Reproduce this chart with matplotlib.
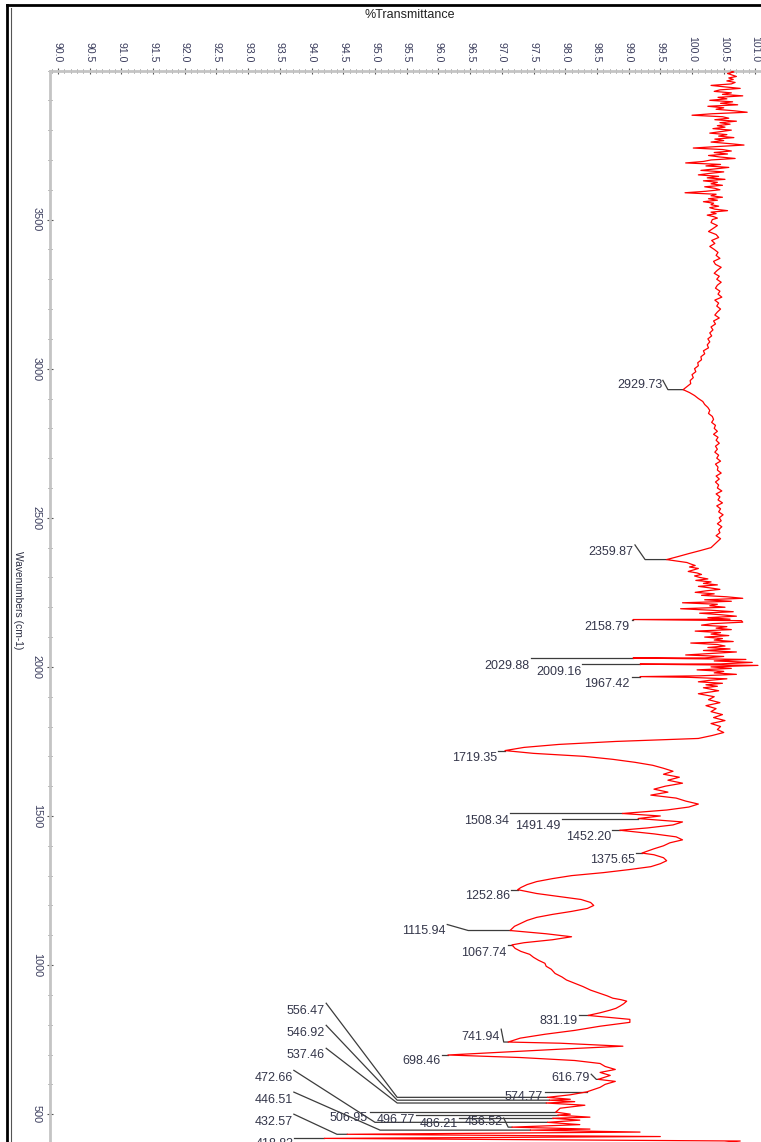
import numpy as np
import matplotlib
matplotlib.use("Agg")
import matplotlib.pyplot as plt
from matplotlib.lines import Line2D
from matplotlib.ticker import MultipleLocator, FormatStrFormatter

plt.rcParams['font.family'] = ['Liberation Sans', 'DejaVu Sans']

# noisy high-wavenumber part, 4000 -> 3500 in steps of 5
wn_a = np.arange(4000, 3499, -5)
t_a = [100.60, 100.66, 100.56, 100.63, 100.70, 100.58, 100.65, 100.55, 100.68, 100.62,
       100.30, 100.52, 100.76, 100.44, 100.35, 100.62, 100.48, 100.80, 100.41, 100.55,
       100.28, 100.64, 100.45, 100.72, 100.25, 100.50, 100.38, 100.66, 100.87, 100.32,
       100.00, 100.48, 100.58, 100.36, 100.70, 100.44, 100.60, 100.40, 100.52, 100.33,
       100.62, 100.45, 100.28, 100.55, 100.42, 100.66, 100.36, 100.50, 100.30, 100.58,
       100.82, 100.40, 100.02, 100.48, 100.62, 100.35, 100.56, 100.26, 100.44, 100.68,
       100.30, 100.18, 99.90, 100.45, 100.22, 100.58, 100.36, 100.14, 100.50, 100.28,
       100.10, 100.42, 100.24, 100.52, 100.18, 100.40, 100.30, 100.48, 100.20, 100.36,
       100.44, 100.22, 99.89, 100.38, 100.30, 100.48, 100.26, 100.40, 100.18, 100.34,
       100.30, 100.42, 100.28, 100.36, 100.56, 100.30, 100.38, 100.24, 100.34, 100.40,
       100.32]

# 3490 -> 2940
wn_b = np.arange(3490, 2939, -10)
t_b = [100.30, 100.40, 100.33, 100.26, 100.38, 100.42, 100.31, 100.36, 100.28, 100.35,
       100.41, 100.38, 100.44, 100.34, 100.37, 100.46, 100.40, 100.35, 100.43, 100.39,
       100.46, 100.40, 100.37, 100.44, 100.41, 100.47, 100.36, 100.42, 100.39, 100.45,
       100.40, 100.36, 100.43, 100.34, 100.37, 100.30, 100.33, 100.28, 100.31, 100.25,
       100.28, 100.24, 100.26, 100.18, 100.20, 100.14, 100.15, 100.09, 100.10, 100.04,
       100.06, 100.00, 100.02, 99.97, 99.98, 99.92]

# 2920 -> 2370, quiet stretch
wn_c = np.arange(2920, 2369, -10)
t_c = [99.96, 100.04, 100.10, 100.17, 100.20, 100.25, 100.28, 100.26, 100.32, 100.34,
       100.31, 100.37, 100.35, 100.40, 100.34, 100.41, 100.38, 100.43, 100.37, 100.40,
       100.36, 100.42, 100.39, 100.45, 100.37, 100.41, 100.40, 100.46, 100.38, 100.43,
       100.37, 100.42, 100.40, 100.47, 100.38, 100.44, 100.41, 100.48, 100.39, 100.45,
       100.42, 100.49, 100.43, 100.46, 100.40, 100.47, 100.42, 100.44, 100.38, 100.45,
       100.40, 100.35, 100.30, 100.13, 99.95, 99.78]

# 2350 -> 1935, noisy stretch
wn_n = np.arange(2350, 1934, -5)
t_n = [99.92, 99.98, 100.05, 99.96, 100.10, 100.02, 99.94, 100.08, 100.15, 100.04,
       100.12, 100.25, 100.06, 100.30, 100.18, 100.40, 100.10, 100.28, 100.44, 100.22,
       100.05, 100.35, 100.15, 100.55, 100.80, 100.20, 100.62, 99.85, 100.40, 100.28,
       100.52, 99.82, 100.30, 100.65, 100.12, 100.45, 100.70, 100.25, 100.60, 100.78,
       100.80, 100.32, 100.15, 100.55, 100.38, 100.62, 100.05, 100.45, 100.30, 100.58,
       100.20, 100.48, 100.35, 100.65, 99.98, 100.40, 100.52, 100.25, 100.60, 100.18,
       100.70, 100.30, 99.90, 100.50, 100.20, 100.85, 100.35, 100.95, 100.45, 101.04,
       100.30, 100.62, 100.08, 100.50, 100.35, 100.70, 100.12, 99.95, 100.55, 100.28,
       100.10, 100.48, 100.22, 100.40]

# 1930 -> 1760
wn_e = np.arange(1930, 1759, -10)
t_e = [100.18, 100.42, 100.10, 100.35, 100.26, 100.44, 100.22, 100.38, 100.30, 100.48,
       100.34, 100.52, 100.30, 100.45, 100.40, 100.50, 100.32, 100.10]

# 1750 -> 400
wn_d = [1750, 1740, 1730, 1710, 1700, 1690, 1680, 1670, 1660, 1650,
        1640, 1630, 1620, 1610, 1600, 1590, 1580, 1570, 1560, 1550,
        1540, 1530, 1520, 1500, 1480, 1470, 1460, 1440, 1430, 1420,
        1410, 1400, 1390, 1370, 1360, 1350, 1340, 1330, 1320, 1310,
        1300, 1290, 1280, 1270, 1260, 1240, 1230, 1220, 1210, 1200,
        1190, 1180, 1170, 1160, 1150, 1140, 1130, 1105, 1095, 1085,
        1075, 1056, 1046, 1036, 1026, 1016, 1006, 996, 986, 972,
        960, 950, 939, 928, 916, 905, 897, 889, 884, 879,
        870, 862, 855, 849, 840, 818, 808, 795, 781, 768,
        755, 738, 728, 718, 690, 680, 670, 660, 650, 640,
        630, 610, 600, 590, 565, 550, 542, 530, 520, 500,
        490, 480, 465, 450, 440, 425, 410, 400]
t_d = [98.80, 97.90, 97.35, 97.50, 98.30, 98.75, 99.10, 99.38, 99.55, 99.70,
       99.55, 99.80, 99.62, 99.85, 99.58, 99.40, 99.62, 99.35, 99.75, 99.90,
       100.10, 99.95, 99.60, 99.50, 99.85, 99.70, 99.30, 99.40, 99.75, 99.85,
       99.65, 99.55, 99.40, 99.40, 99.55, 99.60, 99.50, 99.35, 99.00, 98.60,
       98.10, 97.80, 97.55, 97.40, 97.30, 97.55, 97.90, 98.25, 98.40, 98.45,
       98.35, 98.10, 97.80, 97.55, 97.40, 97.30, 97.20, 97.70, 98.10, 97.80,
       97.35, 97.21, 97.30, 97.44, 97.50, 97.58, 97.68, 97.70, 97.78, 97.84,
       97.95, 98.02, 98.15, 98.28, 98.40, 98.55, 98.66, 98.75, 98.88, 98.97,
       98.92, 98.86, 98.80, 98.71, 98.55, 99.02, 99.02, 98.55, 98.15, 97.68,
       97.29, 97.92, 98.91, 97.92, 97.29, 98.15, 98.55, 98.63, 98.79, 98.55,
       98.71, 98.79, 98.63, 98.55, 98.08, 98.08, 98.15, 98.31, 97.92, 98.08,
       98.39, 98.23, 98.23, 98.39, 99.18, 99.50, 100.76, 100.30]

# labelled peaks
peak_wn = [2929.73, 2359.87, 2158.79, 2029.88, 2009.16, 1967.42, 1719.35, 1508.34,
           1491.49, 1452.20, 1375.65, 1252.86, 1115.94, 1067.74, 831.19, 741.94,
           698.46, 616.79, 574.77, 556.47, 546.92, 537.46, 506.95, 496.77,
           486.21, 472.66, 456.52, 446.51, 432.57, 418.83]
peak_t = [99.86, 99.60, 99.07, 99.07, 99.18, 99.18, 97.05, 98.90,
          99.15, 98.86, 99.21, 97.25, 97.13, 97.16, 98.36, 97.10,
          96.15, 98.52, 98.34, 97.72, 97.75, 97.70, 97.85, 97.88,
          97.80, 97.72, 97.16, 97.45, 94.56, 94.20]

# label placement: text right edge (T, wn), leader start (T, wn), leader elbow T
label_pos = [
    (99.53, 2944, 99.54, 2961, 99.62),
    (99.07, 2385, 99.10, 2409, 99.26),
    (99.02, 2134, 99.05, None, 99.05),
    (97.44, 2003, 97.46, None, 97.46),
    (98.26, 1983, 98.27, None, 98.27),
    (99.02, 1943, 99.05, None, 99.05),
    (96.92, 1695, 96.94, None, 96.94),
    (97.11, 1484, 97.13, None, 97.13),
    (97.93, 1468, 97.95, None, 97.95),
    (98.72, 1431, 98.74, None, 98.74),
    (99.10, 1351, 99.12, None, 99.12),
    (97.13, 1230, 97.15, None, 97.15),
    (96.12, 1113, 96.14, 1136, 96.47),
    (97.08, 1042, 97.10, None, 97.10),
    (98.19, 811, 98.21, None, 98.21),
    (96.97, 758, 96.99, 785, 97.03),
    (96.03, 678, 96.05, None, 96.05),
    (98.39, 621, 98.41, 634, 98.49),
    (97.65, 557, 97.68, None, 97.68),
    (94.21, 845, 94.23, 872, 95.35),
    (94.21, 771, 94.23, 798, 95.35),
    (94.21, 698, 94.23, 721, 95.35),
    (94.89, 487, 94.92, None, 94.92),
    (95.63, 480, 95.65, None, 95.65),
    (96.31, 467, 96.33, None, 96.33),
    (93.71, 621, 93.72, 647, 95.00),
    (97.02, 473, 97.03, 487, 97.10),
    (93.71, 547, 93.72, 574, 95.08),
    (93.71, 473, 93.72, 500, 94.40),
    (93.71, 399, 93.72, None, 93.72),
]

wn = np.concatenate([wn_a, wn_b, wn_c, wn_n, wn_e, wn_d, peak_wn])
tr = np.concatenate([t_a, t_b, t_c, t_n, t_e, t_d, peak_t])
order = np.argsort(wn)[::-1]
wn = wn[order]
tr = tr[order]

W, H = 761, 1142
fig = plt.figure(figsize=(W / 100, H / 100), dpi=100)
ax = fig.add_axes([50 / W, -2 / H, 711 / W, 1073.5 / H])

ax.plot(tr, wn, color='#ff0000', lw=0.9, zorder=3)

label_col = '#34364a'
for (pw, pt, pos) in zip(peak_wn, peak_t, label_pos):
    tx, ty, sx, sy, ex = pos
    if sy is None:
        sy = pw
    ax.plot([sx, ex, pt], [sy, pw, pw], color='#3c3c3c', lw=0.9, zorder=2,
            clip_on=False)
    ax.text(tx, ty, '%.2f' % pw, ha='right', va='center', fontsize=9.0,
            color=label_col, clip_on=False)

ax.set_xlim(89.874, 101.088)
ax.set_ylim(400, 4000)

ax.xaxis.set_major_locator(MultipleLocator(0.5))
ax.xaxis.set_minor_locator(MultipleLocator(0.1))
ax.xaxis.set_major_formatter(FormatStrFormatter('%.1f'))
ax.yaxis.set_major_locator(MultipleLocator(500))
ax.yaxis.set_minor_locator(MultipleLocator(100))
ax.xaxis.tick_top()
ax.tick_params(axis='x', which='major', direction='inout', length=5, width=0.8,
               color='#555555', pad=3.5, labelsize=7.6, labelcolor='#3a3c5c',
               labelrotation=-90)
ax.tick_params(axis='x', which='minor', direction='inout', length=3, width=0.6,
               color='#666666')
ax.tick_params(axis='y', which='major', direction='inout', length=5, width=0.8,
               color='#555555', pad=3.5, labelsize=7.8, labelcolor='#3a3c5c',
               labelrotation=-90)
ax.tick_params(axis='y', which='minor', direction='inout', length=3, width=0.6,
               color='#666666')
yt = [v for v in ax.get_yticks() if 500 <= v <= 3500]
ax.set_yticks(yt)
for lab in ax.get_yticklabels():
    lab.set_verticalalignment('center')

for side in ['right', 'bottom']:
    ax.spines[side].set_visible(False)
for side in ['left', 'top']:
    ax.spines[side].set_color('#c4c4c4')
    ax.spines[side].set_linewidth(2)

fig.text(410 / W, 1 - 15 / H, '%Transmittance', ha='center', va='center',
         fontsize=9, color='#222222')
fig.text(18 / W, 1 - 600 / H, 'Wavenumbers (cm-1)', ha='center', va='center',
         rotation=-90, fontsize=7.4, color='#2a2c40')

# page frame around the chart
fig.add_artist(Line2D([7 / W, 1], [1 - 5 / H, 1 - 5 / H], color='black', lw=2))
fig.add_artist(Line2D([7 / W, 7 / W], [0, 1 - 5 / H], color='black', lw=2))
fig.add_artist(Line2D([11 / W, 11 / W], [0, 1 - 8 / H], color='#555555', lw=0.8))

fig.savefig('out.png', dpi=100)
